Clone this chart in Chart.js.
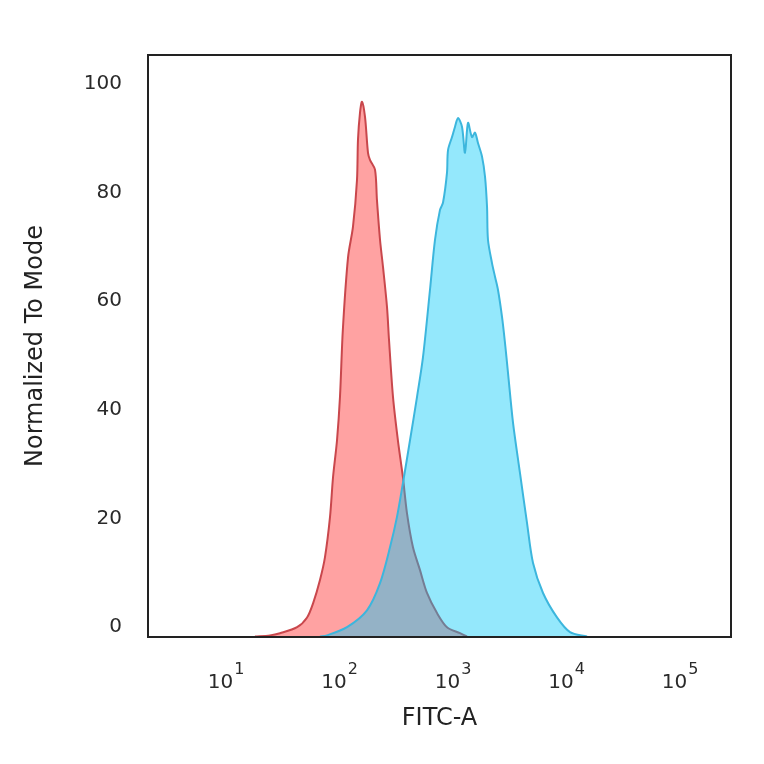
<!DOCTYPE html>
<html>
<head>
<meta charset="utf-8">
<script src="https://cdn.jsdelivr.net/npm/chart.js@4/dist/chart.umd.min.js"></script>
<style>
  html, body { margin: 0; padding: 0; background: #fff; }
  #wrap { width: 764px; height: 764px; position: relative; }
</style>
</head>
<body>
<div id="wrap"><canvas id="c"></canvas></div>
<script>
// ---- data ----
const xTickExponents = [1, 2, 3, 4, 5];
const yTickValues = [0, 20, 40, 60, 80, 100];

const isotypeX = [18.0, 24.4, 29.9, 42.3, 51.8, 58.5, 67.3, 74.5, 82.5, 87.7, 95.1, 101, 107, 119, 131.5, 142.6, 145.5, 151.6, 157.8, 167.8, 178.3, 185.6, 205.5, 213.8, 227.5, 241.7, 262.2, 273, 296, 327, 362, 393, 444, 512, 590, 723, 885, 1153, 1328];
const isotypeY = [-1.7, -1.5, -1.1, 0, 1.8, 4.4, 8.7, 12.9, 20.3, 27.6, 34.4, 42.4, 54.7, 68.1, 73.7, 82.3, 89.7, 94.7, 96.7, 93.9, 87.3, 86.0, 84.2, 78.6, 71.3, 66.3, 58.9, 52.9, 42.4, 34.4, 27.6, 21.0, 14.7, 10.5, 6.3, 2.6, 0, -1.1, -1.7];

const stainedX = [67.3, 77.6, 116.4, 174.6, 227.5, 278.6, 321, 362, 418, 482, 544, 627, 694, 768, 816, 885, 904, 980, 1042, 1107, 1200, 1276, 1356, 1470, 1563, 1660, 1802, 1915, 1995, 2033, 2206, 2345, 2490, 2703, 2872, 3052, 3380, 3890, 4487, 5070, 6210, 8245, 10730, 15170];
const stainedY = [-1.7, -1.5, 0, 3.1, 8.1, 14.7, 20.3, 26.5, 34.4, 42.4, 49.7, 62.1, 71.3, 76.8, 78.1, 83.6, 87.8, 90.2, 92.1, 93.7, 92.1, 87.3, 92.8, 90.2, 91.0, 89.1, 86.6, 82.9, 77.3, 71.3, 67.0, 64.5, 62.1, 57.1, 52.3, 46.8, 37.6, 28.4, 19.2, 11.8, 6.3, 1.8, -0.9, -1.7];

const xTitle = 'FITC-A';
const yTitle = 'Normalized To Mode';

function toPoints(xs, ys) { return xs.map((x, i) => ({ x: x, y: ys[i] })); }

const FONT = "'DejaVu Sans', sans-serif";

const framePlugin = {
  id: 'frameAndTicks',
  afterDatasetsDraw(chart) {
    const { ctx, chartArea: a, scales } = chart;
    ctx.save();
    ctx.strokeStyle = '#222';
    ctx.lineWidth = 2;
    ctx.strokeRect(a.left, a.top, a.right - a.left, a.bottom - a.top);
    // x tick labels as 10 with superscript exponent
    ctx.fillStyle = '#2a2a2a';
    ctx.textBaseline = 'alphabetic';
    xTickExponents.forEach(e => {
      const px = scales.x.getPixelForValue(Math.pow(10, e));
      ctx.font = '20px ' + FONT;
      const baseW = ctx.measureText('10').width;
      ctx.font = '16px ' + FONT;
      const supW = ctx.measureText(String(e)).width;
      const total = baseW + 1 + supW;
      const x0 = px - total / 2;
      ctx.font = '20px ' + FONT;
      ctx.textAlign = 'left';
      ctx.fillText('10', x0, 688);
      ctx.font = '16px ' + FONT;
      ctx.fillText(String(e), x0 + baseW + 1, 674);
    });
    ctx.restore();
  }
};

new Chart(document.getElementById('c'), {
  type: 'line',
  data: {
    datasets: [
      {
        label: 'stained',
        data: toPoints(stainedX, stainedY),
        borderColor: '#3cb6dd',
        backgroundColor: 'rgba(0,200,248,0.42)',
        borderWidth: 2,
        fill: 'start',
        pointRadius: 0,
        tension: 0.3,
        order: 0
      },
      {
        label: 'isotype',
        data: toPoints(isotypeX, isotypeY),
        borderColor: '#c9474c',
        backgroundColor: '#ffa2a2',
        borderWidth: 2,
        fill: 'start',
        pointRadius: 0,
        tension: 0.3,
        order: 1
      }
    ]
  },
  options: {
    responsive: true,
    maintainAspectRatio: false,
    animation: false,
    layout: { padding: { left: 0, top: 55, right: 33, bottom: 0 } },
    plugins: { legend: { display: false }, tooltip: { enabled: false } },
    scales: {
      x: {
        type: 'logarithmic',
        min: 2.055,
        max: 281400,
        grid: { display: false, drawTicks: false },
        border: { display: false },
        ticks: { display: false },
        afterBuildTicks(scale) { scale.ticks = xTickExponents.map(e => ({ value: Math.pow(10, e) })); },
        afterFit(scale) { scale.height = 127; },
        title: {
          display: true, text: xTitle, color: '#222',
          font: { family: FONT, size: 24 }, padding: { top: 0, bottom: 31 }
        }
      },
      y: {
        type: 'linear',
        min: -1.8,
        max: 105.3,
        grid: { display: false, drawTicks: false },
        border: { display: false },
        afterBuildTicks(scale) { scale.ticks = yTickValues.map(v => ({ value: v })); },
        afterFit(scale) { scale.width = 148; },
        ticks: {
          color: '#2a2a2a', padding: 26,
          font: { family: FONT, size: 20 }
        },
        title: {
          display: true, text: yTitle, color: '#222',
          font: { family: FONT, size: 24 }, padding: { top: 21, bottom: 0 }
        }
      }
    }
  },
  plugins: [framePlugin]
});
</script>
</body>
</html>
